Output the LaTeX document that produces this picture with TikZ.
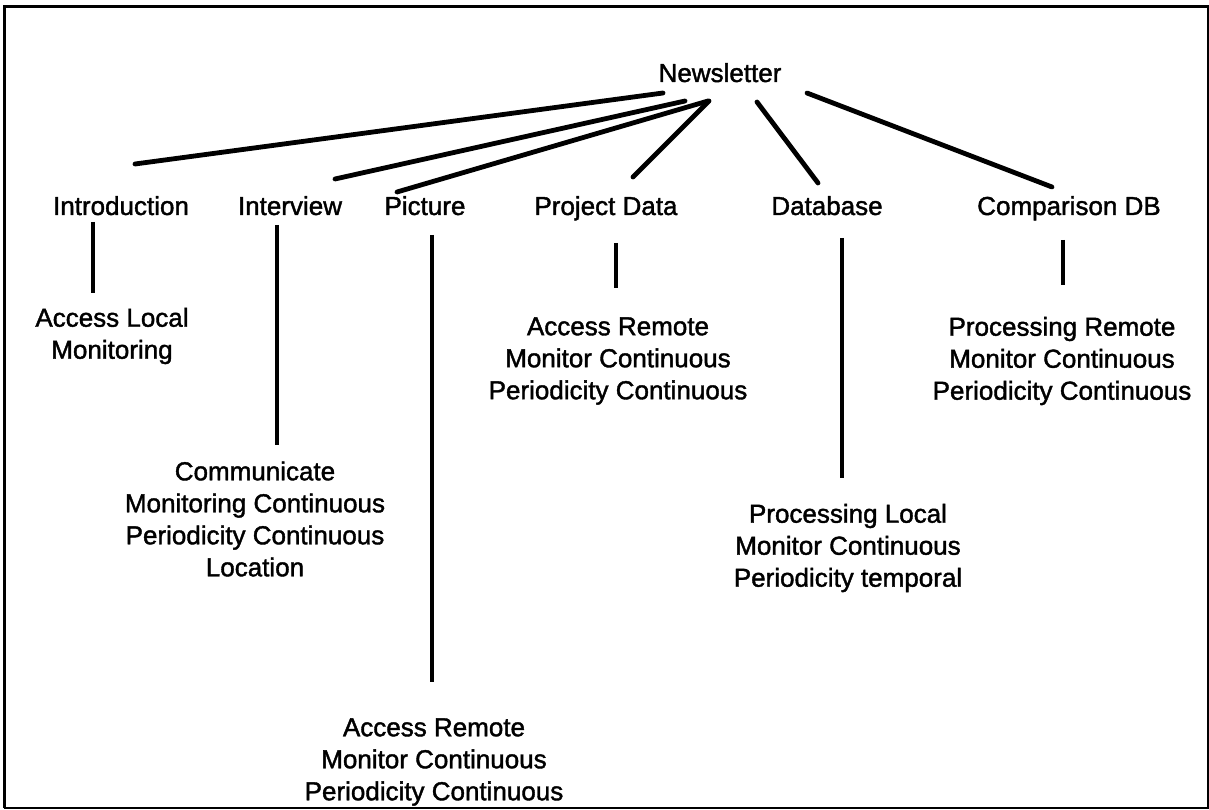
\documentclass[tikz,border=0pt]{standalone}
\usepackage{fontspec}
\setmainfont{Liberation Sans}
\newfontfamily\diagfont{Liberation Sans}[FakeBold=1.5]
\usetikzlibrary{calc}
\begin{document}
\begin{tikzpicture}[x=1pt,y=-1pt,
  lbl/.style={font=\diagfont\fontsize{26}{32}\selectfont, inner sep=0pt, outer sep=0pt, align=center},
  top/.style={lbl, anchor=base},
  fan/.style={line width=4.8pt, line cap=round},
  drop/.style={line width=4pt, line cap=butt},
  frameheavy/.style={line width=3pt},
  framelight/.style={line width=1.5pt}]
\useasboundingbox (0,0) rectangle (1209,810);
\fill[white] (0,0) rectangle (1209,810);

% frame
\draw[frameheavy] (4,808) -- (4,7) -- (1209,7);
\draw[framelight] (4,808) -- (1208.2,808) -- (1208.2,7);

% root
\node[top] (news) at (720,82) {Newsletter};

% first level, sharing one baseline
\node[top] (intro) at (121,215) {Introduction};
\node[top] (intv)  at (290,215) {Interview};
\node[top] (pict)  at (425,215) {Picture};
\node[top] (projd) at (606,215) {Project Data};
\node[top] (dbase) at (827,215) {Database};
\node[top] (cmpdb) at (1069,215) {Comparison DB};

% second level
\node[lbl] (introA) at (112,336) {Access Local\\Monitoring};
\node[lbl] (intvA)  at (255,519) {Communicate\\Monitoring Continuous\\Periodicity Continuous\\Location};
\node[lbl] (pictA)  at (434,762) {Access Remote\\Monitor Continuous\\Periodicity Continuous};
\node[lbl] (projdA) at (618,361) {Access Remote\\Monitor Continuous\\Periodicity Continuous};
\node[lbl] (dbaseA) at (848,548) {Processing Local\\Monitor Continuous\\Periodicity temporal};
\node[lbl] (cmpdbA) at (1062,361) {Processing Remote\\Monitor Continuous\\Periodicity Continuous};

% root to first level (offsets from the baselines)
\draw[fan] ($(news.base)+(-57,11)$) -- ($(intro.base)+(14,-51)$);
\draw[fan] ($(news.base)+(-35,19)$) -- ($(intv.base)+(45,-36)$);
\draw[fan] ($(news.base)+(-12,19)$) -- ($(pict.base)+(-28,-23)$);
\draw[fan] ($(news.base)+(-11,19)$) -- ($(projd.base)+(27,-38)$);
\draw[fan] ($(news.base)+(37,20)$) -- ($(dbase.base)+(-9,-32)$);
\draw[fan] ($(news.base)+(87,11)$) -- ($(cmpdb.base)+(-17,-28)$);

% first level to second level
\draw[drop] ($(intro.base)+(-28,7)$) -- ($(introA)+(-19,-43)$);
\draw[drop] ($(intv.base)+(-13,10)$) -- ($(intvA)+(22,-74)$);
\draw[drop] ($(pict.base)+(7,20)$) -- ($(pictA)+(-2,-80)$);
\draw[drop] ($(projd.base)+(10,28)$) -- ($(projdA)+(-2,-73)$);
\draw[drop] ($(dbase.base)+(15,23)$) -- ($(dbaseA)+(-6,-70)$);
\draw[drop] ($(cmpdb.base)+(-6,25)$) -- ($(cmpdbA)+(1,-76)$);
\end{tikzpicture}
\end{document}
